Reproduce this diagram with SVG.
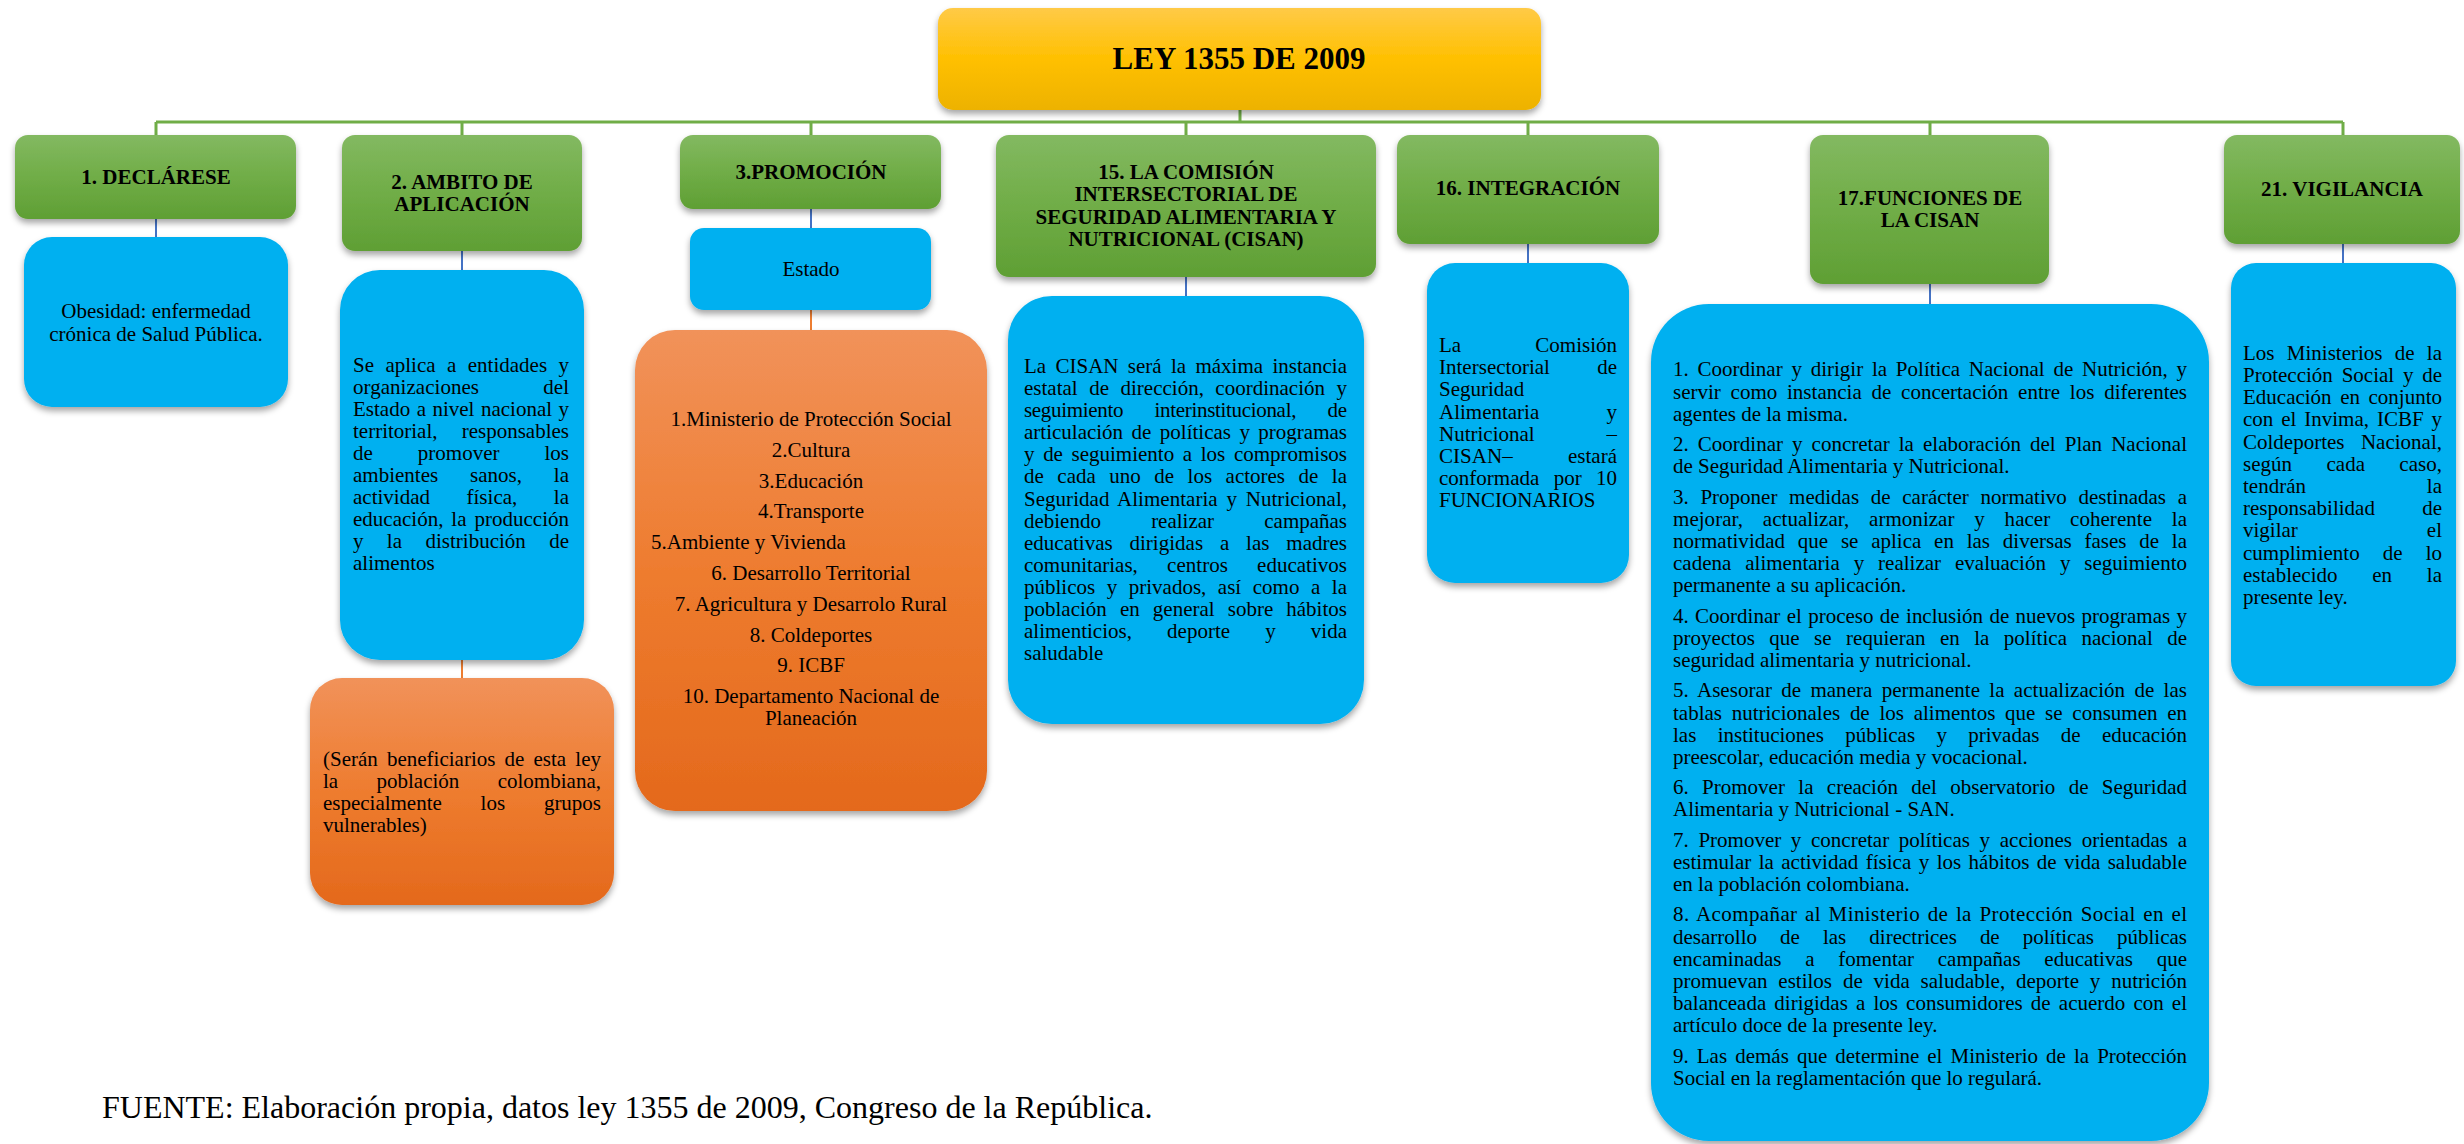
<svg xmlns="http://www.w3.org/2000/svg" width="2464" height="1144" viewBox="0 0 2464 1144">
<defs>
<linearGradient id="gGreen" x1="0" y1="0" x2="0" y2="1"><stop offset="0" stop-color="#83B961"/><stop offset="0.5" stop-color="#70AD47"/><stop offset="1" stop-color="#5F9F34"/></linearGradient>
<linearGradient id="gYellow" x1="0" y1="0" x2="0" y2="1"><stop offset="0" stop-color="#FFCA47"/><stop offset="0.5" stop-color="#FFC000"/><stop offset="1" stop-color="#EDB200"/></linearGradient>
<linearGradient id="gOrange" x1="0" y1="0" x2="0" y2="1"><stop offset="0" stop-color="#F1925A"/><stop offset="0.5" stop-color="#EE7C2F"/><stop offset="1" stop-color="#E4691C"/></linearGradient>
<filter id="sh" x="-10%" y="-10%" width="120%" height="130%"><feDropShadow dx="0" dy="4" stdDeviation="3" flood-color="#000" flood-opacity="0.35"/></filter>
</defs>
<style>
.hd{font-family:"Liberation Serif","Times New Roman",serif;font-weight:bold;font-size:21px;fill:#000;text-anchor:middle}
.tx{font-family:"Liberation Serif","Times New Roman",serif;font-size:21px;fill:#000}
.c{text-anchor:middle}
.g{fill:url(#gGreen);filter:url(#sh)}
.y{fill:url(#gYellow);filter:url(#sh)}
.b{fill:#00B0F0;filter:url(#sh)}
.o{fill:url(#gOrange);filter:url(#sh)}
.lg{stroke:#70AD47;stroke-width:3;fill:none}
.lb{stroke:#4472C4;stroke-width:2;fill:none}
.lo{stroke:#ED7D31;stroke-width:2;fill:none}
</style>
<rect width="2464" height="1144" fill="#fff"/>

<g id="connectors">
<path class="lg" d="M1240 110V122M156 122H2343M156 122V135M462 122V135M811 122V135M1186 122V135M1528 122V135M1930 122V135M2343 122V135"/>
<path class="lb" d="M156 219V237M462 251V270M811 209V228M1186 277V296M1528 244V263M1930 284V304M2343 244V263"/>
<path class="lo" d="M462 660V678M811 310V330"/>
</g>

<g id="root">
<rect class="y" x="938" y="8" width="603" height="102" rx="15"/>
<text class="hd" x="1239" y="69" style="font-size:31px">LEY 1355 DE 2009</text>
</g>

<g id="h1">
<rect class="g" x="15" y="135" width="281" height="84" rx="13"/>
<text class="hd" x="156" y="184">1. DECLÁRESE</text>
</g>
<g id="h2">
<rect class="g" x="342" y="135" width="240" height="116" rx="13"/>
<text class="hd" x="462" y="189">2. AMBITO DE</text>
<text class="hd" x="462" y="211">APLICACIÓN</text>
</g>
<g id="h3">
<rect class="g" x="680" y="135" width="261" height="74" rx="13"/>
<text class="hd" x="811" y="179">3.PROMOCIÓN</text>
</g>
<g id="h15">
<rect class="g" x="996" y="135" width="380" height="142" rx="13"/>
<text class="hd" x="1186" y="179">15. LA COMISIÓN</text>
<text class="hd" x="1186" y="201">INTERSECTORIAL DE</text>
<text class="hd" x="1186" y="224">SEGURIDAD ALIMENTARIA Y</text>
<text class="hd" x="1186" y="246">NUTRICIONAL (CISAN)</text>
</g>
<g id="h16">
<rect class="g" x="1397" y="135" width="262" height="109" rx="13"/>
<text class="hd" x="1528" y="195">16. INTEGRACIÓN</text>
</g>
<g id="h17">
<rect class="g" x="1810" y="135" width="239" height="149" rx="13"/>
<text class="hd" x="1930" y="205">17.FUNCIONES DE</text>
<text class="hd" x="1930" y="227">LA CISAN</text>
</g>
<g id="h21">
<rect class="g" x="2224" y="135" width="236" height="109" rx="13"/>
<text class="hd" x="2342" y="196">21. VIGILANCIA</text>
</g>

<g id="n1">
<rect class="b" x="24" y="237" width="264" height="170" rx="28"/>
<text class="tx c" x="156" y="318">Obesidad: enfermedad</text>
<text class="tx c" x="156" y="341">crónica de Salud Pública.</text>
</g>

<g id="n2">
<rect class="b" x="340" y="270" width="244" height="390" rx="40"/>
<text class="tx" x="353" y="371.5" textLength="216" lengthAdjust="spacing" word-spacing="6.2">Se aplica a entidades y</text>
<text class="tx" x="353" y="393.6" textLength="216" lengthAdjust="spacing" word-spacing="59">organizaciones del</text>
<text class="tx" x="353" y="415.7" textLength="216" lengthAdjust="spacing" word-spacing="1.2">Estado a nivel nacional y</text>
<text class="tx" x="353" y="437.8" textLength="216" lengthAdjust="spacing" word-spacing="19">territorial, responsables</text>
<text class="tx" x="353" y="459.9" textLength="216" lengthAdjust="spacing" word-spacing="39.8">de promover los</text>
<text class="tx" x="353" y="482" textLength="216" lengthAdjust="spacing" word-spacing="26.6">ambientes sanos, la</text>
<text class="tx" x="353" y="504.1" textLength="216" lengthAdjust="spacing" word-spacing="31.3">actividad física, la</text>
<text class="tx" x="353" y="526.2" textLength="216" lengthAdjust="spacing" word-spacing="2.7">educación, la producción</text>
<text class="tx" x="353" y="548.3" textLength="216" lengthAdjust="spacing" word-spacing="18.1">y la distribución de</text>
<text class="tx" x="353" y="570.4">alimentos</text>
</g>

<g id="n2b">
<rect class="o" x="310" y="678" width="304" height="227" rx="32"/>
<text class="tx" x="323" y="765.5" textLength="278" lengthAdjust="spacing" word-spacing="3.9">(Serán beneficiarios de esta ley</text>
<text class="tx" x="323" y="787.6" textLength="278" lengthAdjust="spacing" word-spacing="33">la población colombiana,</text>
<text class="tx" x="323" y="809.7" textLength="278" lengthAdjust="spacing" word-spacing="33.6">especialmente los grupos</text>
<text class="tx" x="323" y="831.8">vulnerables)</text>
</g>

<g id="n3">
<rect class="b" x="690" y="228" width="241" height="82" rx="14"/>
<text class="tx c" x="811" y="275.5">Estado</text>
</g>

<g id="n3b">
<rect class="o" x="635" y="330" width="352" height="481" rx="40"/>
<text class="tx c" x="811" y="426">1.Ministerio de Protección Social</text>
<text class="tx c" x="811" y="456.8">2.Cultura</text>
<text class="tx c" x="811" y="487.6">3.Educación</text>
<text class="tx c" x="811" y="518.4">4.Transporte</text>
<text class="tx" x="651" y="549.2">5.Ambiente y Vivienda</text>
<text class="tx c" x="811" y="580">6. Desarrollo Territorial</text>
<text class="tx c" x="811" y="610.8">7. Agricultura y Desarrolo Rural</text>
<text class="tx c" x="811" y="641.6">8. Coldeportes</text>
<text class="tx c" x="811" y="672.4">9. ICBF</text>
<text class="tx c" x="811" y="703.2">10. Departamento Nacional de</text>
<text class="tx c" x="811" y="725.4">Planeación</text>
</g>

<g id="n15">
<rect class="b" x="1008" y="296" width="356" height="428" rx="44"/>
<text class="tx" x="1024" y="372.8" textLength="323" lengthAdjust="spacing" word-spacing="4.1">La CISAN será la máxima instancia</text>
<text class="tx" x="1024" y="394.9" textLength="323" lengthAdjust="spacing" word-spacing="6.2">estatal de dirección, coordinación y</text>
<text class="tx" x="1024" y="417" textLength="323" lengthAdjust="spacing" word-spacing="26.5">seguimiento interinstitucional, de</text>
<text class="tx" x="1024" y="439.2" textLength="323" lengthAdjust="spacing" word-spacing="3.2">articulación de políticas y programas</text>
<text class="tx" x="1024" y="461.3" textLength="323" lengthAdjust="spacing" word-spacing="3.4">y de seguimiento a los compromisos</text>
<text class="tx" x="1024" y="483.4" textLength="323" lengthAdjust="spacing" word-spacing="8.3">de cada uno de los actores de la</text>
<text class="tx" x="1024" y="505.5" textLength="323" lengthAdjust="spacing" word-spacing="3.5">Seguridad Alimentaria y Nutricional,</text>
<text class="tx" x="1024" y="527.6" textLength="323" lengthAdjust="spacing" word-spacing="45">debiendo realizar campañas</text>
<text class="tx" x="1024" y="549.8" textLength="323" lengthAdjust="spacing" word-spacing="11.6">educativas dirigidas a las madres</text>
<text class="tx" x="1024" y="571.9" textLength="323" lengthAdjust="spacing" word-spacing="24">comunitarias, centros educativos</text>
<text class="tx" x="1024" y="594" textLength="323" lengthAdjust="spacing" word-spacing="6.3">públicos y privados, así como a la</text>
<text class="tx" x="1024" y="616.1" textLength="323" lengthAdjust="spacing" word-spacing="7.8">población en general sobre hábitos</text>
<text class="tx" x="1024" y="638.2" textLength="323" lengthAdjust="spacing" word-spacing="29.9">alimenticios, deporte y vida</text>
<text class="tx" x="1024" y="660.4">saludable</text>
</g>

<g id="n16">
<rect class="b" x="1427" y="263" width="202" height="320" rx="28"/>
<text class="tx" x="1439" y="352.2" textLength="178" lengthAdjust="spacing" word-spacing="69">La Comisión</text>
<text class="tx" x="1439" y="374.3" textLength="178" lengthAdjust="spacing" word-spacing="42">Intersectorial de</text>
<text class="tx" x="1439" y="396.4">Seguridad</text>
<text class="tx" x="1439" y="418.5" textLength="178" lengthAdjust="spacing" word-spacing="62">Alimentaria y</text>
<text class="tx" x="1439" y="440.6" textLength="178" lengthAdjust="spacing" word-spacing="66.6">Nutricional –</text>
<text class="tx" x="1439" y="462.7" textLength="178" lengthAdjust="spacing" word-spacing="50">CISAN– estará</text>
<text class="tx" x="1439" y="484.8" textLength="178" lengthAdjust="spacing" word-spacing="9.1">conformada por 10</text>
<text class="tx" x="1439" y="506.9">FUNCIONARIOS</text>
</g>

<g id="n17">
<rect class="b" x="1651" y="304" width="558" height="837" rx="58"/>
<text class="tx" x="1673" y="376.3" textLength="514" lengthAdjust="spacing" word-spacing="3.5">1. Coordinar y dirigir la Política Nacional de Nutrición, y</text>
<text class="tx" x="1673" y="398.5" textLength="514" lengthAdjust="spacing" word-spacing="4.5">servir como instancia de concertación entre los diferentes</text>
<text class="tx" x="1673" y="420.7">agentes de la misma.</text>
<text class="tx" x="1673" y="451" textLength="514" lengthAdjust="spacing" word-spacing="3.8">2. Coordinar y concretar la elaboración del Plan Nacional</text>
<text class="tx" x="1673" y="473.2">de Seguridad Alimentaria y Nutricional.</text>
<text class="tx" x="1673" y="503.5" textLength="514" lengthAdjust="spacing" word-spacing="6.4">3. Proponer medidas de carácter normativo destinadas a</text>
<text class="tx" x="1673" y="525.7" textLength="514" lengthAdjust="spacing" word-spacing="14.5">mejorar, actualizar, armonizar y hacer coherente la</text>
<text class="tx" x="1673" y="547.9" textLength="514" lengthAdjust="spacing" word-spacing="7.5">normatividad que se aplica en las diversas fases de la</text>
<text class="tx" x="1673" y="570.1" textLength="514" lengthAdjust="spacing" word-spacing="8.7">cadena alimentaria y realizar evaluación y seguimiento</text>
<text class="tx" x="1673" y="592.3">permanente a su aplicación.</text>
<text class="tx" x="1673" y="622.6" textLength="514" lengthAdjust="spacing" word-spacing="1.1">4. Coordinar el proceso de inclusión de nuevos programas y</text>
<text class="tx" x="1673" y="644.8" textLength="514" lengthAdjust="spacing" word-spacing="9.1">proyectos que se requieran en la política nacional de</text>
<text class="tx" x="1673" y="667">seguridad alimentaria y nutricional.</text>
<text class="tx" x="1673" y="697.3" textLength="514" lengthAdjust="spacing" word-spacing="4">5. Asesorar de manera permanente la actualización de las</text>
<text class="tx" x="1673" y="719.5" textLength="514" lengthAdjust="spacing" word-spacing="4.5">tablas nutricionales de los alimentos que se consumen en</text>
<text class="tx" x="1673" y="741.7" textLength="514" lengthAdjust="spacing" word-spacing="16.1">las instituciones públicas y privadas de educación</text>
<text class="tx" x="1673" y="763.9">preescolar, educación media y vocacional.</text>
<text class="tx" x="1673" y="794.2" textLength="514" lengthAdjust="spacing" word-spacing="8.1">6. Promover la creación del observatorio de Seguridad</text>
<text class="tx" x="1673" y="816.4">Alimentaria y Nutricional - SAN.</text>
<text class="tx" x="1673" y="846.7" textLength="514" lengthAdjust="spacing" word-spacing="4.4">7. Promover y concretar políticas y acciones orientadas a</text>
<text class="tx" x="1673" y="868.9" textLength="514" lengthAdjust="spacing" word-spacing="2.2">estimular la actividad física y los hábitos de vida saludable</text>
<text class="tx" x="1673" y="891.1">en la población colombiana.</text>
<text class="tx" x="1673" y="921.4" textLength="514" lengthAdjust="spacing" word-spacing="1.9">8. Acompañar al Ministerio de la Protección Social en el</text>
<text class="tx" x="1673" y="943.6" textLength="514" lengthAdjust="spacing" word-spacing="17.8">desarrollo de las directrices de políticas públicas</text>
<text class="tx" x="1673" y="965.8" textLength="514" lengthAdjust="spacing" word-spacing="18.5">encaminadas a fomentar campañas educativas que</text>
<text class="tx" x="1673" y="988" textLength="514" lengthAdjust="spacing" word-spacing="5.6">promuevan estilos de vida saludable, deporte y nutrición</text>
<text class="tx" x="1673" y="1010.2" textLength="514" lengthAdjust="spacing" word-spacing="2.9">balanceada dirigidas a los consumidores de acuerdo con el</text>
<text class="tx" x="1673" y="1032.4">artículo doce de la presente ley.</text>
<text class="tx" x="1673" y="1062.7" textLength="514" lengthAdjust="spacing" word-spacing="2.8">9. Las demás que determine el Ministerio de la Protección</text>
<text class="tx" x="1673" y="1084.9">Social en la reglamentación que lo regulará.</text>
</g>

<g id="n21">
<rect class="b" x="2231" y="263" width="225" height="423" rx="25"/>
<text class="tx" x="2243" y="359.8" textLength="199" lengthAdjust="spacing" word-spacing="7">Los Ministerios de la</text>
<text class="tx" x="2243" y="382" textLength="199" lengthAdjust="spacing" word-spacing="3.5">Protección Social y de</text>
<text class="tx" x="2243" y="404.2" textLength="199" lengthAdjust="spacing" word-spacing="3.3">Educación en conjunto</text>
<text class="tx" x="2243" y="426.4" textLength="199" lengthAdjust="spacing" word-spacing="2.6">con el Invima, ICBF y</text>
<text class="tx" x="2243" y="448.6" textLength="199" lengthAdjust="spacing" word-spacing="11.2">Coldeportes Nacional,</text>
<text class="tx" x="2243" y="470.8" textLength="199" lengthAdjust="spacing" word-spacing="29">según cada caso,</text>
<text class="tx" x="2243" y="493" textLength="199" lengthAdjust="spacing" word-spacing="115.6">tendrán la</text>
<text class="tx" x="2243" y="515.2" textLength="199" lengthAdjust="spacing" word-spacing="42">responsabilidad de</text>
<text class="tx" x="2243" y="537.4" textLength="199" lengthAdjust="spacing" word-spacing="123.8">vigilar el</text>
<text class="tx" x="2243" y="559.6" textLength="199" lengthAdjust="spacing" word-spacing="17.8">cumplimiento de lo</text>
<text class="tx" x="2243" y="581.8" textLength="199" lengthAdjust="spacing" word-spacing="29.5">establecido en la</text>
<text class="tx" x="2243" y="604">presente ley.</text>
</g>

<text id="fuente" class="tx" x="102" y="1118" style="font-size:32px">FUENTE: Elaboración propia, datos ley 1355 de 2009, Congreso de la República.</text>
</svg>
